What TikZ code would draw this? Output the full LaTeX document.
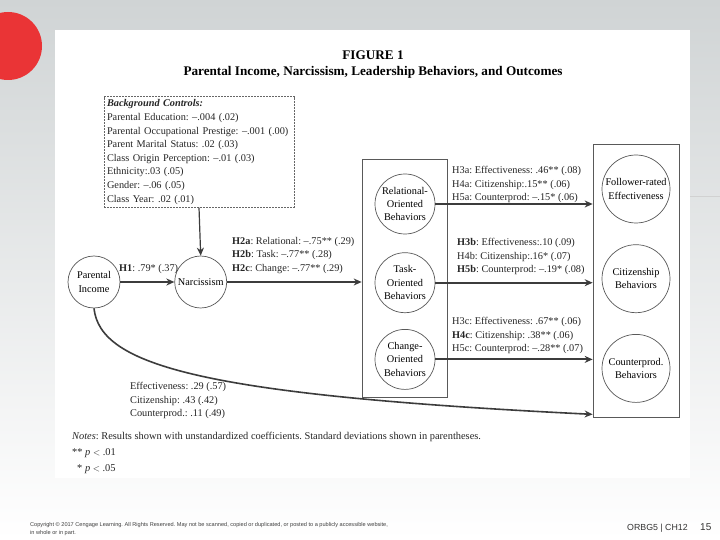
\documentclass[tikz,border=0pt]{standalone}
\usepackage{fontspec}
\setmainfont{Liberation Serif}
\newfontfamily\footerfont{Liberation Sans}
\usetikzlibrary{positioning,arrows.meta,shapes.geometric,backgrounds}
\definecolor{slidegray}{RGB}{208,212,213}
\definecolor{slidered}{RGB}{234,52,54}
\definecolor{linegray}{RGB}{60,60,60}
\frenchspacing

\begin{document}
\begin{tikzpicture}[
  x=1pt, y=-1pt,
  var/.style={circle, draw=black!65, fill=white, line width=0.7pt, align=center, inner sep=0pt, minimum size=#1, font=\fontsize{10.3}{13.4}\selectfont},
  var/.default=52pt,
  grp/.style={rectangle, draw=black!65, line width=0.7pt, inner sep=0pt},
  lbl/.style={align=left, inner sep=0pt, font=\fontsize{10.3}{13.6}\selectfont, text=black!85},
  arrow/.style={-{Stealth[length=8pt, width=7pt]}, line width=1.9pt, draw=linegray},
  curve/.style={-{Stealth[length=8pt, width=7pt]}, line width=1.6pt, draw=linegray},
]
  % Slide background
  \useasboundingbox (0,0) rectangle (720,540);
  \shade[top color=slidegray, bottom color=white] (0,0) rectangle (720,540);
  \fill[slidered] (8,46) circle[radius=34pt];
  \draw[black!18] (690,196) -- (720,196);
  \fill[white] (55,30) rectangle (690,478);

  % Title
  \node[font=\fontsize{13.2}{15}\selectfont\bfseries] (fig) at (373,55) {FIGURE 1};
  \node[font=\fontsize{13.2}{15}\selectfont\bfseries, below=0pt of fig] (title) {Parental Income, Narcissism, Leadership Behaviors, and Outcomes};

  % Controls
  \node[lbl, draw=black!60, dash pattern=on 2pt off 1pt, line width=0.6pt, inner sep=3pt, text width=184pt] (ctrl) at (199,152) {\textbf{\textit{Background Controls:}}\\
    Parental Education: --.004 (.02)\\
    Parental Occupational Prestige: --.001 (.00)\\
    Parent Marital Status: .02 (.03)\\
    Class Origin Perception: --.01 (.03)\\
    Ethnicity:.03 (.05)\\
    Gender: --.06 (.05)\\
    Class Year: .02 (.01)};

  % Predictor and mediator
  \node[var] (pinc) at (94,282) {Parental\\Income};
  \node[var, right=54pt of pinc] (narc) {Narcissism};

  % Leadership behaviors
  \node[grp, minimum width=85pt, minimum height=238pt] (lgrp) at (404.5,278) {};
  \node[var=60pt] (rel) at (405,204) {Relational-\\Oriented\\Behaviors};
  \node[var=60pt, below=18pt of rel] (task) {Task-\\Oriented\\Behaviors};
  \node[var=60pt, below=16pt of task] (chg) {Change-\\Oriented\\Behaviors};

  % Outcomes
  \node[grp, minimum width=86pt, minimum height=273pt] (rgrp) at (636,280.5) {};
  \node[var=68pt] (eff) at (636,189) {Follower-rated\\Effectiveness};
  \node[var=68pt, below=21pt of eff] (cit) {Citizenship\\Behaviors};
  \node[var=68pt, below=21pt of cit] (cpb) {Counterprod.\\Behaviors};
  \coordinate (cend) at ([yshift=3pt]rgrp.south west);

  % Arrows
  \draw[arrow, line width=1.2pt] (ctrl.south) -- (narc.north);
  \draw[arrow] (pinc.east) -- (narc.west);
  \draw[arrow] (narc.east) -- (narc -| lgrp.west);
  \draw[arrow] (rel.east) -- (rel -| rgrp.west);
  \draw[arrow] (task.east) -- (task -| rgrp.west);
  \draw[arrow] (chg.east) -- (chg -| rgrp.west);
  \draw[curve] (pinc.south) .. controls (100,365) and (200,395) .. (cend);

  % Path labels
  \node[lbl, anchor=north west] (h1) at (119,264) {\textbf{H1}: .79* (.37)};
  \node[lbl, anchor=north west] (h2) at (232,237) {\textbf{H2a}: Relational: --.75** (.29)\\
    \textbf{H2b}: Task: --.77** (.28)\\
    \textbf{H2c}: Change: --.77** (.29)};
  \node[lbl, anchor=north west] (h3a) at (452,166) {H3a: Effectiveness: .46** (.08)\\
    H4a: Citizenship:.15** (.06)\\
    H5a: Counterprod: --.15* (.06)};
  \node[lbl, anchor=north west] (h3b) at (457,238) {\textbf{H3b}: Effectiveness:.10 (.09)\\
    H4b: Citizenship:.16* (.07)\\
    \textbf{H5b}: Counterprod: --.19* (.08)};
  \node[lbl, anchor=north west] (h3c) at (452,317) {H3c: Effectiveness: .67** (.06)\\
    \textbf{H4c}: Citizenship: .38** (.06)\\
    H5c: Counterprod: --.28** (.07)};
  \node[lbl, anchor=north west] (direct) at (130,382) {Effectiveness: .29 (.57)\\
    Citizenship: .43 (.42)\\
    Counterprod.: .11 (.49)};

  % Notes
  \node[lbl, anchor=north west, font=\fontsize{10.4}{16}\selectfont] (notes) at (72,432) {\textit{Notes}: Results shown with unstandardized coefficients. Standard deviations shown in parentheses.\\
    ** \textit{p} {\small$<$} .01\\
    \hspace*{5pt}* \textit{p} {\small$<$} .05};

  % Footer
  \node[anchor=north west, align=left, inner sep=0pt, text=black!75, font=\footerfont\fontsize{5.6}{8}\selectfont] (copy) at (30,522) {Copyright © 2017 Cengage Learning. All Rights Reserved. May not be scanned, copied or duplicated, or posted to a publicly accessible website,\\ in whole or in part.};
  \node[anchor=west, inner sep=0pt, text=black!80, font=\footerfont\fontsize{8.8}{10}\selectfont] (chap) at (627,528) {ORBG5 | CH12};
  \node[anchor=west, inner sep=0pt, text=black!80, font=\footerfont\fontsize{10}{11}\selectfont] (page) at (700,527) {15};
\end{tikzpicture}
\end{document}
